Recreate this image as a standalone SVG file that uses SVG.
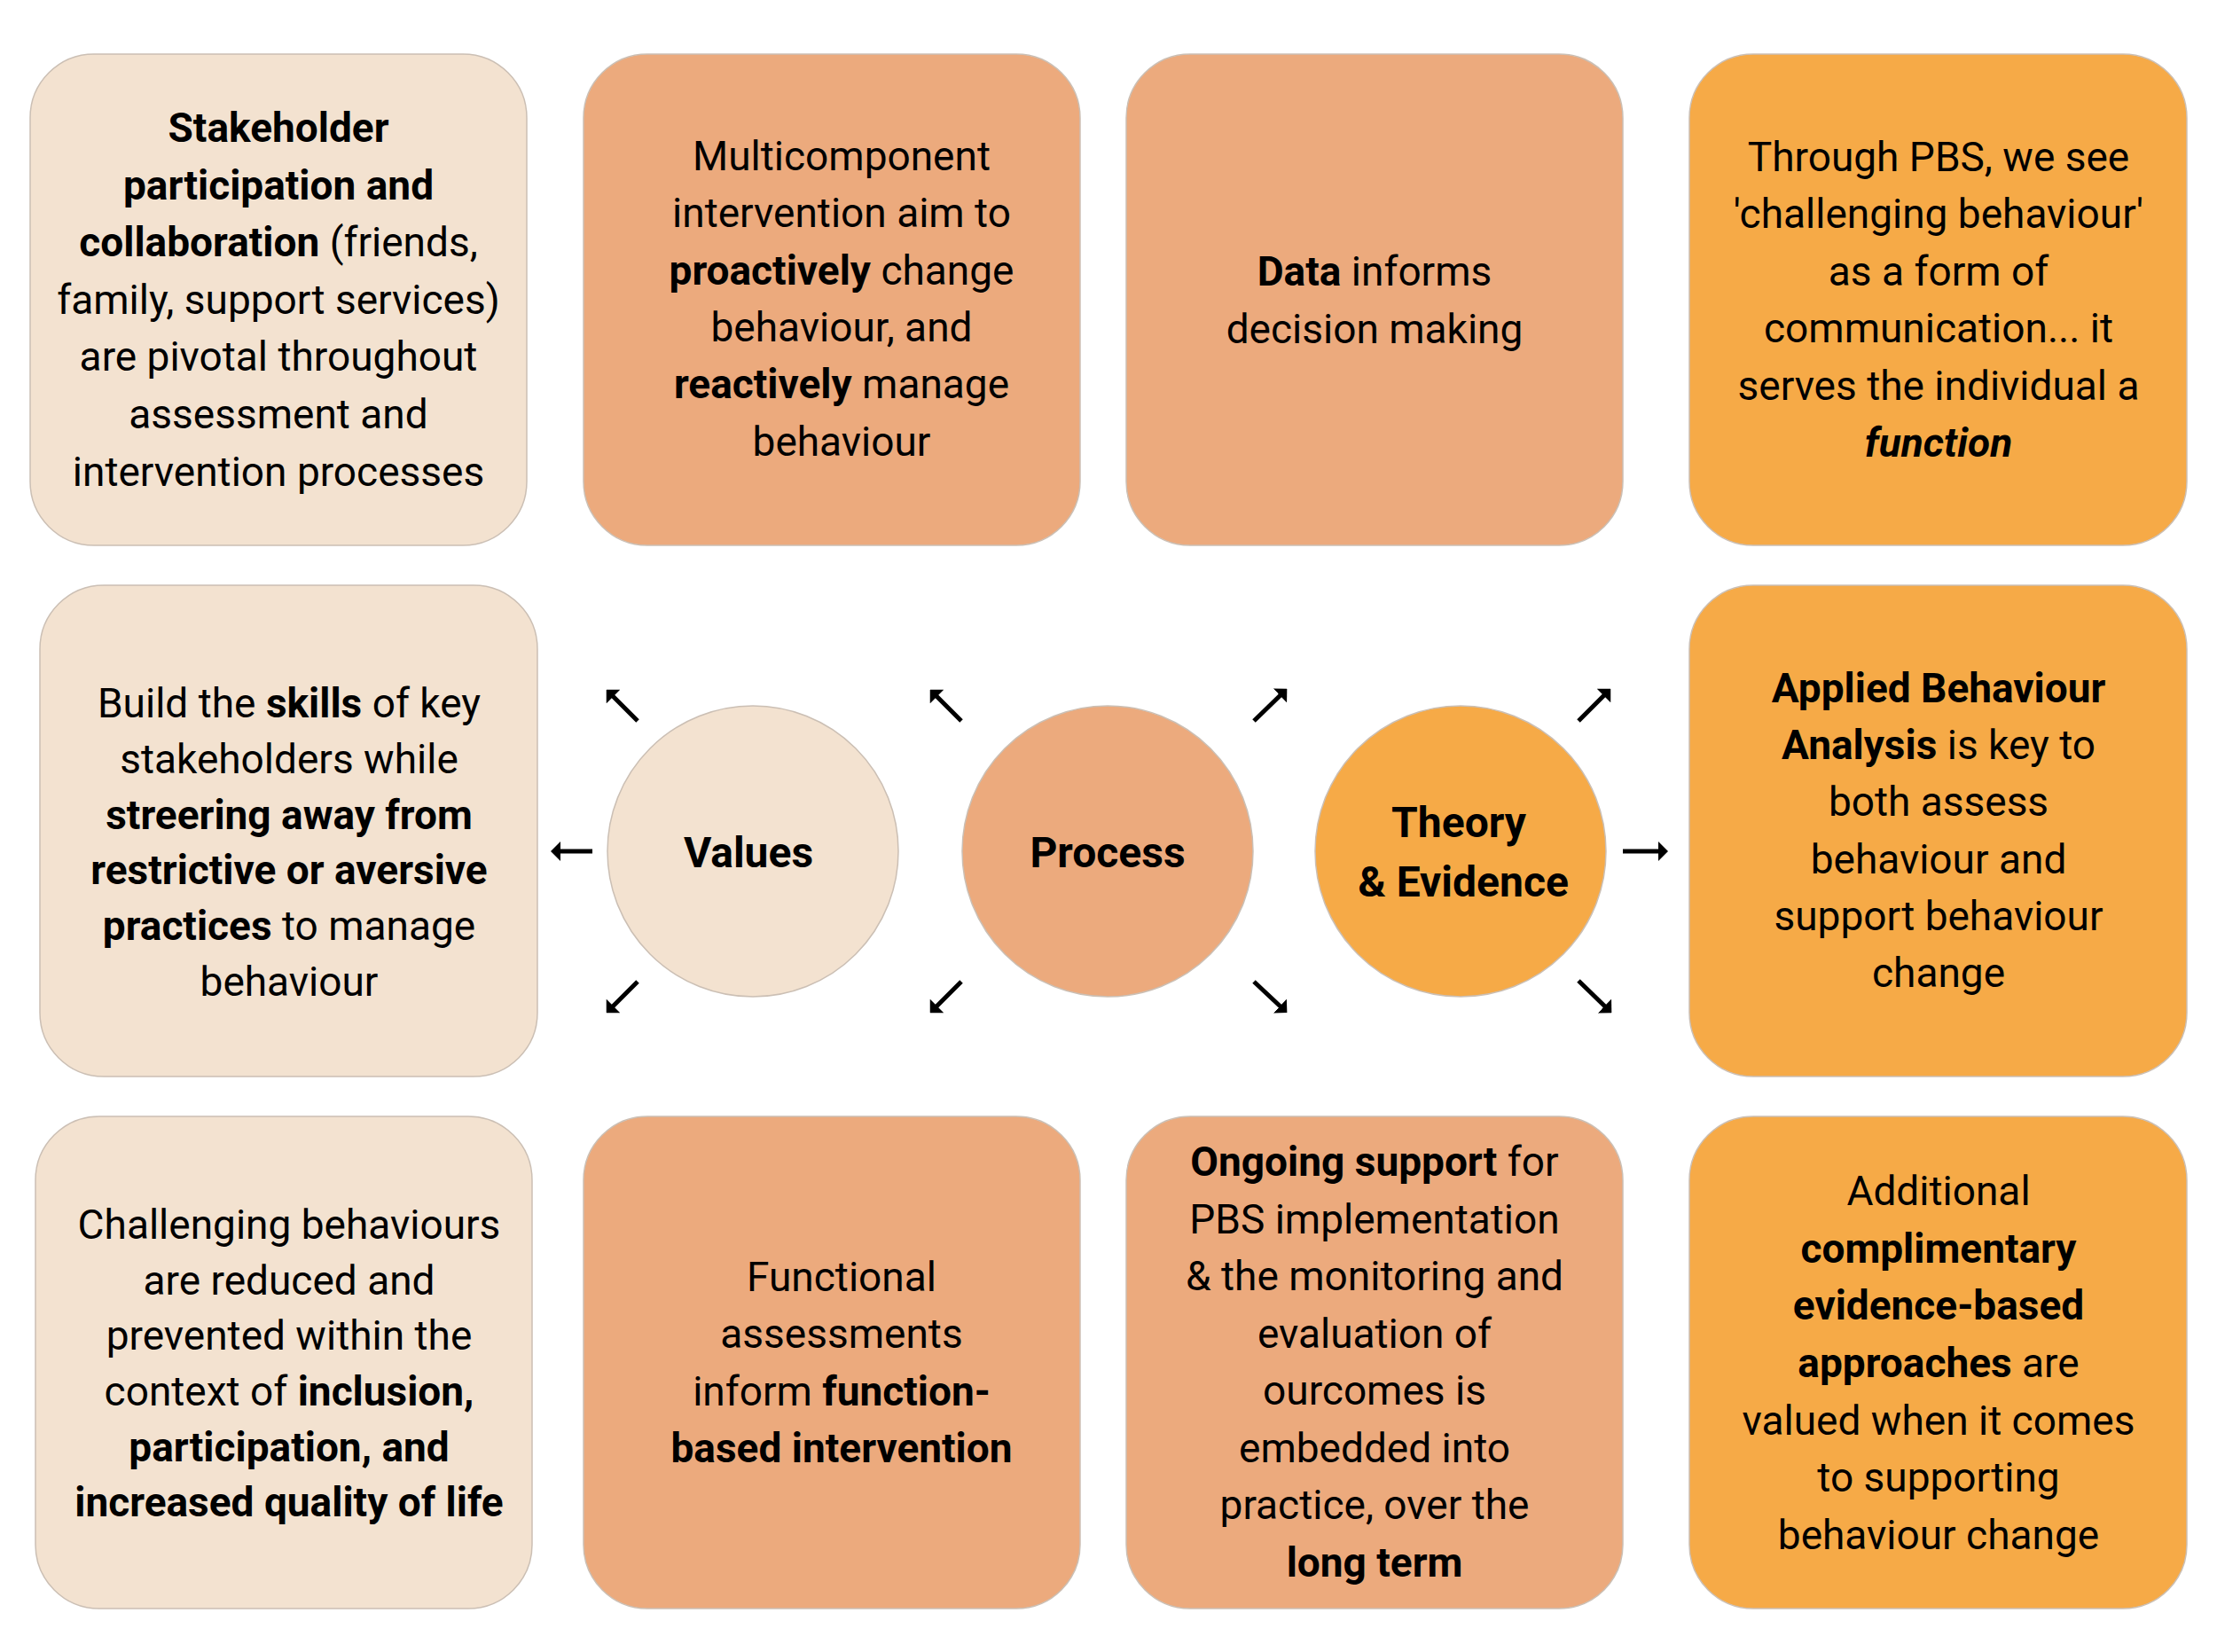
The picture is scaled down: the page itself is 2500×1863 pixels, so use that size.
<svg xmlns="http://www.w3.org/2000/svg" width="2500" height="1863" viewBox="0 0 2500 1863">
<style>
  .box { stroke: #cbbfb4; stroke-width: 1.5; }
  .beige { fill: #F3E2D0; }
  .salmon { fill: #ECAA7D; }
  .orange { fill: #F6AA47; }
  text { font-family: Roboto, "Liberation Sans", Arial, sans-serif; font-size: 46px; fill: #000; text-anchor: middle; }
  .b { font-weight: bold; }
  .bi { font-weight: bold; font-style: italic; }
  .hub { font-size: 48px; font-weight: bold; }
  .arr { stroke: #000; stroke-width: 5; fill: none; marker-end: url(#ah); }
</style>
<defs>
  <marker id="ah" viewBox="0 0 11 22" refX="5" refY="11" markerWidth="11" markerHeight="22" markerUnits="userSpaceOnUse" orient="auto">
    <path d="M0,0 L11,11 L0,22 z" fill="#000"/>
  </marker>
</defs>
<rect width="2500" height="1863" fill="#fff"/>

<g id="box-stakeholder">
  <rect class="box beige" x="34" y="61" width="560" height="554" rx="72" ry="72"/>
  <text x="314" y="160"><tspan class="b">Stakeholder</tspan></text>
  <text x="314" y="225"><tspan class="b">participation and</tspan></text>
  <text x="314" y="289"><tspan class="b">collaboration</tspan> (friends,</text>
  <text x="314" y="354">family, support services)</text>
  <text x="314" y="418">are pivotal throughout</text>
  <text x="314" y="483">assessment and</text>
  <text x="314" y="548">intervention processes</text>
</g>

<g id="box-multicomponent">
  <rect class="box salmon" x="658" y="61" width="560" height="554" rx="72" ry="72"/>
  <text x="949" y="192">Multicomponent</text>
  <text x="949" y="256">intervention aim to</text>
  <text x="949" y="321"><tspan class="b">proactively</tspan> change</text>
  <text x="949" y="385">behaviour, and</text>
  <text x="949" y="449"><tspan class="b">reactively</tspan> manage</text>
  <text x="949" y="514">behaviour</text>
</g>

<g id="box-data">
  <rect class="box salmon" x="1270" y="61" width="560" height="554" rx="72" ry="72"/>
  <text x="1550" y="322"><tspan class="b">Data</tspan> informs</text>
  <text x="1550" y="387">decision making</text>
</g>

<g id="box-communication">
  <rect class="box orange" x="1905" y="61" width="561" height="554" rx="72" ry="72"/>
  <text x="2186" y="193">Through PBS, we see</text>
  <text x="2186" y="257">'challenging behaviour'</text>
  <text x="2186" y="322">as a form of</text>
  <text x="2186" y="386">communication... it</text>
  <text x="2186" y="451">serves the individual a</text>
  <text x="2186" y="515"><tspan class="bi">function</tspan></text>
</g>

<g id="box-skills">
  <rect class="box beige" x="45" y="660" width="561" height="554" rx="72" ry="72"/>
  <text x="326" y="809">Build the <tspan class="b">skills</tspan> of key</text>
  <text x="326" y="872">stakeholders while</text>
  <text x="326" y="935"><tspan class="b">streering away from</tspan></text>
  <text x="326" y="997"><tspan class="b">restrictive or aversive</tspan></text>
  <text x="326" y="1060"><tspan class="b">practices</tspan> to manage</text>
  <text x="326" y="1123">behaviour</text>
</g>

<g id="box-aba">
  <rect class="box orange" x="1905" y="660" width="561" height="554" rx="72" ry="72"/>
  <text x="2186" y="792"><tspan class="b">Applied Behaviour</tspan></text>
  <text x="2186" y="856"><tspan class="b">Analysis</tspan> is key to</text>
  <text x="2186" y="920">both assess</text>
  <text x="2186" y="985">behaviour and</text>
  <text x="2186" y="1049">support behaviour</text>
  <text x="2186" y="1113">change</text>
</g>

<g id="box-challenging">
  <rect class="box beige" x="40" y="1259" width="560" height="555" rx="72" ry="72"/>
  <text x="326" y="1397">Challenging behaviours</text>
  <text x="326" y="1460">are reduced and</text>
  <text x="326" y="1522">prevented within the</text>
  <text x="326" y="1585">context of <tspan class="b">inclusion,</tspan></text>
  <text x="326" y="1648"><tspan class="b">participation, and</tspan></text>
  <text x="326" y="1710"><tspan class="b">increased quality of life</tspan></text>
</g>

<g id="box-functional">
  <rect class="box salmon" x="658" y="1259" width="560" height="555" rx="72" ry="72"/>
  <text x="949" y="1456">Functional</text>
  <text x="949" y="1520">assessments</text>
  <text x="949" y="1585">inform <tspan class="b">function-</tspan></text>
  <text x="949" y="1649"><tspan class="b">based intervention</tspan></text>
</g>

<g id="box-ongoing">
  <rect class="box salmon" x="1270" y="1259" width="560" height="555" rx="72" ry="72"/>
  <text x="1550" y="1326"><tspan class="b">Ongoing support</tspan> for</text>
  <text x="1550" y="1391">PBS implementation</text>
  <text x="1550" y="1455">&amp; the monitoring and</text>
  <text x="1550" y="1520">evaluation of</text>
  <text x="1550" y="1584">ourcomes is</text>
  <text x="1550" y="1649">embedded into</text>
  <text x="1550" y="1713">practice, over the</text>
  <text x="1550" y="1778"><tspan class="b">long term</tspan></text>
</g>

<g id="box-additional">
  <rect class="box orange" x="1905" y="1259" width="561" height="555" rx="72" ry="72"/>
  <text x="2186" y="1359">Additional</text>
  <text x="2186" y="1424"><tspan class="b">complimentary</tspan></text>
  <text x="2186" y="1488"><tspan class="b">evidence-based</tspan></text>
  <text x="2186" y="1553"><tspan class="b">approaches</tspan> are</text>
  <text x="2186" y="1618">valued when it comes</text>
  <text x="2186" y="1682">to supporting</text>
  <text x="2186" y="1747">behaviour change</text>
</g>

<g id="hub-values">
  <circle class="box beige" cx="849" cy="960" r="164"/>
  <text class="hub" x="844" y="978">Values</text>
</g>
<g id="hub-process">
  <circle class="box salmon" cx="1249" cy="960" r="164"/>
  <text class="hub" x="1249" y="978">Process</text>
</g>
<g id="hub-theory">
  <circle class="box orange" cx="1647" cy="960" r="164"/>
  <text class="hub" x="1645" y="944">Theory</text>
  <text class="hub" x="1650" y="1011">&amp; Evidence</text>
</g>

<g id="connectors">
  <line class="arr" x1="719" y1="813" x2="688" y2="782"/>
  <line class="arr" x1="668" y1="960" x2="627" y2="960"/>
  <line class="arr" x1="719" y1="1107" x2="688" y2="1138"/>
  <line class="arr" x1="1084" y1="813" x2="1053" y2="782"/>
  <line class="arr" x1="1084" y1="1107" x2="1053" y2="1138"/>
  <line class="arr" x1="1414" y1="813" x2="1447" y2="781"/>
  <line class="arr" x1="1414" y1="1107" x2="1447" y2="1138"/>
  <line class="arr" x1="1780" y1="813" x2="1812" y2="781"/>
  <line class="arr" x1="1830" y1="960" x2="1875" y2="960"/>
  <line class="arr" x1="1780" y1="1106" x2="1813" y2="1138"/>
</g>
</svg>
